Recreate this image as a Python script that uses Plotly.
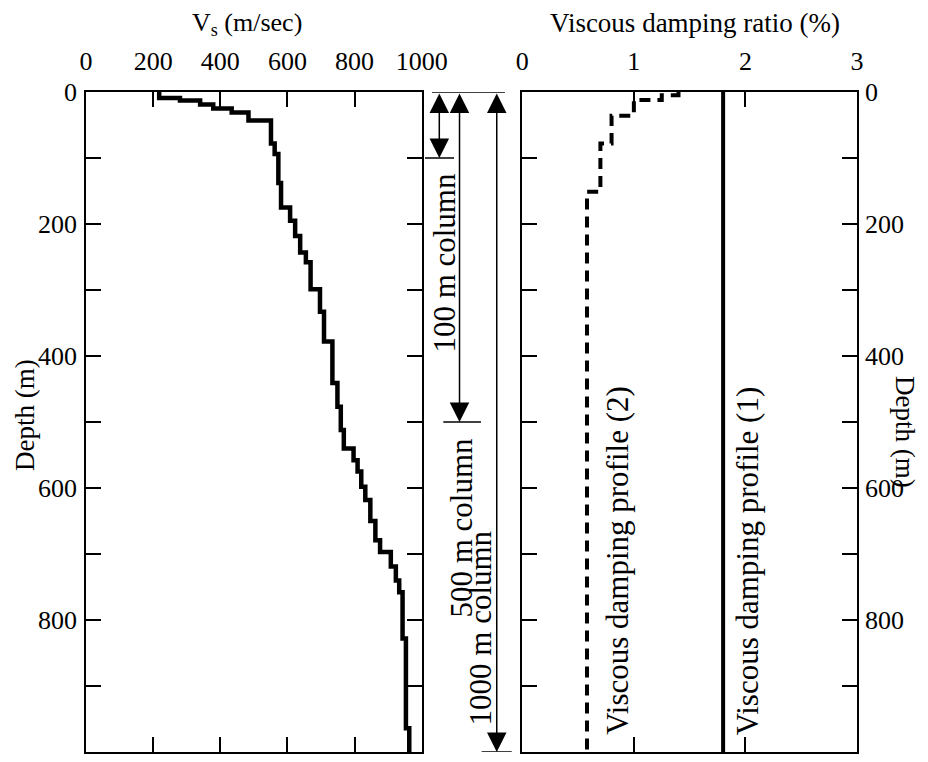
import plotly.graph_objects as go

# ---------------- data ----------------
depth_max = 1000

# Shear-wave velocity profile: layer top depth (m) and Vs (m/sec)
vs_layer_top = [0, 9, 13, 19, 25, 31, 43, 78, 94, 138, 175, 195, 218, 243, 258,
                299, 333, 378, 441, 477, 512, 540, 558, 575, 598, 618, 650, 679,
                697, 719, 740, 758, 828, 964]
vs_values = [218, 280, 340, 379, 434, 484, 551, 562, 573, 581, 608, 623, 638,
             655, 669, 697, 709, 734, 749, 759, 768, 797, 809, 820, 832, 847,
             862, 876, 908, 923, 933, 943, 953, 963]

# Viscous damping profile (2): layer top depth (m) and damping ratio (%)
damp2_layer_top = [0, 5, 12, 36, 78, 151]
damp2_values = [1.4, 1.25, 1.0, 0.8, 0.7, 0.58]

# Viscous damping profile (1): constant damping ratio (%)
damp1_value = 1.8

# Soil column heights (m)
column_depths = [100, 500, 1000]
column_labels = ["100 m column", "500 m column", "1000 m column"]

depth_ticks = list(range(0, 1001, 100))
depth_ticktext = [str(d) if d % 200 == 0 else "" for d in depth_ticks]
vs_ticks = [0, 200, 400, 600, 800, 1000]
damp_ticks = [0, 1, 2, 3]


def step_profile(tops, values, bottom):
    xs, ys = [], []
    for i, v in enumerate(values):
        b = tops[i + 1] if i + 1 < len(tops) else bottom
        xs += [v, v]
        ys += [tops[i], b]
    return xs, ys


vs_x, vs_y = step_profile(vs_layer_top, vs_values, depth_max)
d2_x, d2_y = step_profile(damp2_layer_top, damp2_values, depth_max)

FONT = "Liberation Serif"
TICKFS = 26
ROTFS = 31

fig = go.Figure()
fig.add_trace(go.Scatter(x=vs_x, y=vs_y, mode="lines", xaxis="x", yaxis="y",
                         line=dict(color="black", width=4.5), showlegend=False))
fig.add_trace(go.Scatter(x=d2_x, y=d2_y, mode="lines", xaxis="x2", yaxis="y2",
                         line=dict(color="black", width=4, dash="11px,7px"),
                         showlegend=False))
fig.add_trace(go.Scatter(x=[damp1_value, damp1_value], y=[0, depth_max],
                         mode="lines", xaxis="x2", yaxis="y2",
                         line=dict(color="black", width=4), showlegend=False))

axis_common = dict(showline=True, linecolor="black", linewidth=1.5,
                   ticks="inside", ticklen=15, tickwidth=1.5, tickcolor="black",
                   mirror="ticks", showgrid=False, zeroline=False,
                   tickfont=dict(family=FONT, size=TICKFS, color="black"))

L0, L1 = 0.0, 0.4354
R0, R1 = 0.5659, 1.0

# page body has an 8 px margin, so the figure is offset accordingly
fig.update_layout(
    width=920, height=754, template="none",
    paper_bgcolor="white", plot_bgcolor="white",
    margin=dict(l=78, r=71, t=84, b=10, autoexpand=False),
    font=dict(family=FONT, color="black"),
    xaxis=dict(domain=[L0, L1], range=[0, 1000], side="top", anchor="y",
               tickvals=vs_ticks, ticklabelstandoff=10, **axis_common),
    yaxis=dict(domain=[0, 1], range=[depth_max, 0], anchor="x",
               tickvals=depth_ticks, ticktext=depth_ticktext,
               ticklabelstandoff=2, **axis_common),
    xaxis2=dict(domain=[R0, R1], range=[0, 3], side="top", anchor="y2",
                tickvals=damp_ticks, ticklabelstandoff=10, **axis_common),
    yaxis2=dict(domain=[0, 1], range=[depth_max, 0], anchor="x2", side="right",
                tickvals=depth_ticks, ticktext=depth_ticktext,
                ticklabelstandoff=1, **axis_common),
    xaxis3=dict(domain=[L1, R0], range=[0, 1], anchor="y", visible=False),
)

# ----- column arrows in the middle strip -----
arrow_x = [0.175, 0.376, 0.746]
bottom_line_span = [(0.033, 0.321), (0.215, 0.589), (0.596, 0.895)]
label_x = [0.225, 0.40, 0.585]
label_depth = [258, 660, 812]

fig.add_shape(type="line", xref="x3", yref="y", x0=0.102, x1=0.828, y0=0, y1=0,
              line=dict(color="black", width=1.5))
for d, ax_, (s0, s1), lx, ld, lab in zip(column_depths, arrow_x, bottom_line_span,
                                         label_x, label_depth, column_labels):
    fig.add_shape(type="line", xref="x3", yref="y", x0=s0, x1=s1, y0=d, y1=d,
                  line=dict(color="black", width=1.5))
    fig.add_annotation(x=ax_, y=d, ax=ax_, ay=0, xref="x3", yref="y",
                       axref="x3", ayref="y", text="", showarrow=True,
                       arrowhead=2, startarrowhead=2, arrowside="end+start",
                       arrowsize=2.6, startarrowsize=2.6, arrowwidth=1.5,
                       arrowcolor="black", standoff=0, startstandoff=0)
    fig.add_annotation(x=lx, y=ld, xref="x3", yref="y", text=lab, showarrow=False,
                       xanchor="center", yanchor="middle", textangle=-90,
                       font=dict(family=FONT, size=ROTFS, color="black"))

# ----- damping profile labels -----
fig.add_annotation(x=0.85, y=710, xref="x2", yref="y2",
                   text="Viscous damping profile (2)", showarrow=False,
                   xanchor="center", yanchor="middle", textangle=-90,
                   font=dict(family=FONT, size=ROTFS, color="black"))
fig.add_annotation(x=2.02, y=710, xref="x2", yref="y2",
                   text="Viscous damping profile (1)", showarrow=False,
                   xanchor="center", yanchor="middle", textangle=-90,
                   font=dict(family=FONT, size=ROTFS, color="black"))

# ----- axis titles (positions in reference-page pixels) -----
def px(x):
    return (x - 86) / 771


def py(y):
    return (752 - y) / 660


fig.add_annotation(x=px(247), y=py(24), xref="paper", yref="paper",
                   text="V<sub>s</sub> (m/sec)", showarrow=False,
                   xanchor="center", yanchor="middle",
                   font=dict(family=FONT, size=26, color="black"))
fig.add_annotation(x=px(695), y=py(23), xref="paper", yref="paper",
                   text="Viscous damping ratio (%)", showarrow=False,
                   xanchor="center", yanchor="middle",
                   font=dict(family=FONT, size=27, color="black"))
fig.add_annotation(x=px(25), y=py(415), xref="paper", yref="paper",
                   text="Depth (m)", showarrow=False, textangle=-90,
                   xanchor="center", yanchor="middle",
                   font=dict(family=FONT, size=27, color="black"))
fig.add_annotation(x=px(905), y=py(432), xref="paper", yref="paper",
                   text="Depth (m)", showarrow=False, textangle=90,
                   xanchor="center", yanchor="middle",
                   font=dict(family=FONT, size=27, color="black"))

fig.write_html("out.html")
